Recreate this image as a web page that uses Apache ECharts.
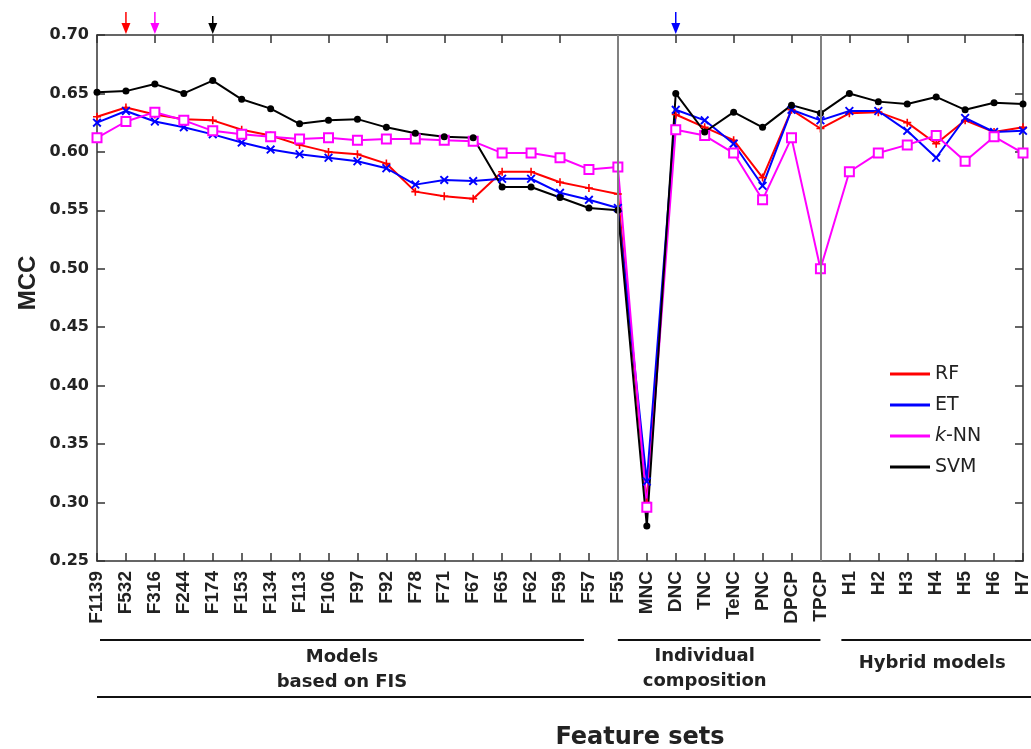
<!DOCTYPE html>
<html>
<head>
<meta charset="utf-8">
<script src="https://cdn.jsdelivr.net/npm/echarts@6/dist/echarts.min.js"></script>
<style>
  html, body { margin: 0; padding: 0; background: #fff; }
  #chart { width: 1031px; height: 749px; }
</style>
</head>
<body>
<div id="chart"></div>
<script>
const categories = [
  'F1139', 'F532', 'F316', 'F244', 'F174', 'F153', 'F134', 'F113', 'F106', 'F97',
  'F92', 'F78', 'F71', 'F67', 'F65', 'F62', 'F59', 'F57', 'F55',
  'MNC', 'DNC', 'TNC', 'TeNC', 'PNC', 'DPCP', 'TPCP',
  'H1', 'H2', 'H3', 'H4', 'H5', 'H6', 'H7'
];

const rf = [
  0.630, 0.638, 0.632, 0.628, 0.627, 0.619, 0.614, 0.606, 0.600, 0.598,
  0.590, 0.566, 0.562, 0.560, 0.583, 0.583, 0.574, 0.569, 0.564,
  0.300, 0.632, 0.621, 0.610, 0.578, 0.636, 0.620,
  0.633, 0.634, 0.625, 0.607, 0.627, 0.617, 0.621
];
const et = [
  0.625, 0.635, 0.626, 0.621, 0.615, 0.608, 0.602, 0.598, 0.595, 0.592,
  0.586, 0.572, 0.576, 0.575, 0.577, 0.577, 0.565, 0.559, 0.552,
  0.318, 0.636, 0.627, 0.607, 0.571, 0.636, 0.627,
  0.635, 0.635, 0.618, 0.595, 0.629, 0.617, 0.618
];
const knn = [
  0.612, 0.626, 0.634, 0.627, 0.618, 0.615, 0.613, 0.611, 0.612, 0.610,
  0.611, 0.611, 0.610, 0.609, 0.599, 0.599, 0.595, 0.585, 0.587,
  0.296, 0.619, 0.614, 0.599, 0.559, 0.612, 0.500,
  0.583, 0.599, 0.606, 0.614, 0.592, 0.613, 0.599
];
const svm = [
  0.651, 0.652, 0.658, 0.650, 0.661, 0.645, 0.637, 0.624, 0.627, 0.628,
  0.621, 0.616, 0.613, 0.612, 0.570, 0.570, 0.561, 0.552, 0.550,
  0.280, 0.650, 0.617, 0.634, 0.621, 0.640, 0.633,
  0.650, 0.643, 0.641, 0.647, 0.636, 0.642, 0.641
];

const dividers = ['F55', 'TPCP'];
const arrowCats = ['F532', 'F316', 'F174', 'DNC'];
const arrowColors = ['#ff0000', '#ff00ff', '#000000', '#0000ff'];

const ARIAL = '"Liberation Sans", Arial, sans-serif';
const DEJA = '"DejaVu Sans", sans-serif';
const plus = 'path://M4,0H6V4H10V6H6V10H4V6H0V4H4Z';
const star = 'path://M0,1.5L1.5,0L5,3.5L8.5,0L10,1.5L6.5,5L10,8.5L8.5,10L5,6.5L1.5,10L0,8.5L3.5,5Z';

const chart = echarts.init(document.getElementById('chart'));

const mk = (name, data, color, symbol, size) => ({
  name, type: 'line', data, xAxisIndex: 0, yAxisIndex: 0,
  symbol, symbolSize: size,
  lineStyle: { color, width: 2 },
  itemStyle: { color, borderColor: color, borderWidth: symbol === 'emptyRect' ? 1.6 : 0 },
  emphasis: { disabled: true },
  animation: false
});

const series = [
  mk('RF', rf, '#ff0000', plus, 8),
  mk('ET', et, '#0000ff', star, 9),
  mk('k-NN', knn, '#ff00ff', 'emptyRect', 9),
  mk('SVM', svm, '#000000', 'circle', 7)
];
series[0].markLine = {
  silent: true, symbol: 'none', label: { show: false },
  lineStyle: { color: '#808080', width: 2, type: 'solid' },
  data: dividers.map(c => ({ xAxis: c }))
};

const axisLine = { show: true, lineStyle: { color: '#333', width: 1.5 } };
const tick = { show: true, inside: true, length: 8, lineStyle: { color: '#333', width: 1.5 } };

chart.setOption({
  backgroundColor: '#fff',
  animation: false,
  grid: { left: 97, right: 8, top: 35, bottom: 188, outerBoundsMode: 'none', containLabel: false },
  legend: {
    orient: 'vertical', left: 885, top: 359, itemGap: 11,
    itemWidth: 40, itemHeight: 3, icon: 'rect',
    itemStyle: { borderWidth: 0 },
    textStyle: {
      fontFamily: DEJA, fontSize: 19, lineHeight: 20, color: '#222',
      rich: { i: { fontFamily: DEJA, fontSize: 19, lineHeight: 20, fontStyle: 'italic', color: '#222' } }
    },
    formatter: n => n === 'k-NN' ? '{i|k}-NN' : n
  },
  xAxis: [{
    type: 'category', data: categories, boundaryGap: false, position: 'bottom',
    axisLine, axisTick: tick,
    axisLabel: { rotate: 90, interval: 0, fontFamily: ARIAL, fontWeight: 'bold', fontSize: 19, color: '#222', margin: 10 }
  }, {
    type: 'category', data: categories, boundaryGap: false, position: 'top',
    axisLine, axisTick: tick, axisLabel: { show: false }
  }],
  yAxis: [{
    type: 'value', min: 0.25, max: 0.70, interval: 0.05, position: 'left',
    axisLine, axisTick: tick, splitLine: { show: false },
    axisLabel: { formatter: v => v.toFixed(2), fontFamily: DEJA, fontWeight: 'bold', fontSize: 16, color: '#222', margin: 8 }
  }, {
    type: 'value', min: 0.25, max: 0.70, interval: 0.05, position: 'right',
    axisLine, axisTick: tick, splitLine: { show: false }, axisLabel: { show: false }
  }],
  series
});

// annotations placed from the category axis
const px = c => chart.convertToPixel({ xAxisIndex: 0 }, c);
const topY = 35;
const graphics = [];

graphics.push({
  type: 'text', x: 28, y: 283, rotation: Math.PI / 2,
  style: { text: 'MCC', fontFamily: ARIAL, fontWeight: 'bold', fontSize: 24, fill: '#222', align: 'center', verticalAlign: 'middle' }
});
graphics.push({
  type: 'text', x: 640, y: 738,
  style: { text: 'Feature sets', fontFamily: DEJA, fontWeight: 'bold', fontSize: 24, fill: '#222', align: 'center', verticalAlign: 'middle' }
});

arrowCats.forEach((c, i) => {
  const x = px(c);
  const color = arrowColors[i];
  const y0 = c === 'F174' ? 16 : 12;
  graphics.push({ type: 'line', shape: { x1: x, y1: y0, x2: x, y2: topY - 8 }, style: { stroke: color, lineWidth: 1.5 } });
  graphics.push({ type: 'polygon', shape: { points: [[x - 4.5, topY - 12], [x + 4.5, topY - 12], [x, topY - 1]] }, style: { fill: color } });
});

const groups = [
  { text: 'Models\nbased on FIS', x1: px('F1139') + 3, x2: px('F57') - 5, cx: (px('F106') + px('F97')) / 2 - 1, cy: 670 },
  { text: 'Individual\ncomposition', x1: px('F55'), x2: px('TPCP'), cx: (px('MNC') + px('PNC')) / 2, cy: 669 },
  { text: 'Hybrid models', x1: px('H1') - 8, x2: 1031, cx: px('H4') - 4, cy: 663 }
];
groups.forEach(g => {
  graphics.push({ type: 'line', shape: { x1: g.x1, y1: 640, x2: g.x2, y2: 640 }, style: { stroke: '#111', lineWidth: 2 } });
  graphics.push({
    type: 'text', x: g.cx, y: g.cy,
    style: { text: g.text, fontFamily: DEJA, fontWeight: 'bold', fontSize: 18, lineHeight: 25, fill: '#222', align: 'center', verticalAlign: 'middle' }
  });
});
graphics.push({ type: 'line', shape: { x1: px('F1139'), y1: 697, x2: 1031, y2: 697 }, style: { stroke: '#111', lineWidth: 2 } });

chart.setOption({ graphic: graphics });
</script>
</body>
</html>
